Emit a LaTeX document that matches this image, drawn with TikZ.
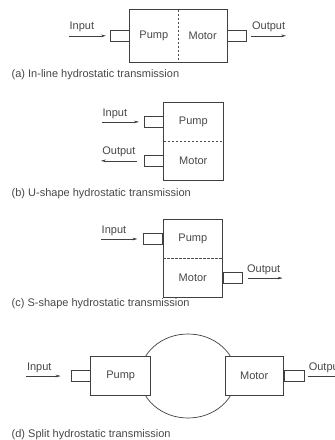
\documentclass[tikz,border=0pt]{standalone}
\usepackage{fontspec}
\setmainfont{Liberation Sans}
\usepackage{tikz}
\usetikzlibrary{arrows.meta, positioning}

\begin{document}
\begin{tikzpicture}[
    x=1pt, y=-1pt,
    every node/.style={font=\fontsize{11}{13}\selectfont, text=black!72},
    half/.style={rectangle, minimum width=59pt, minimum height=38.5pt, inner sep=0pt},
    unit/.style={rectangle, draw=black!75, line width=0.7pt, fill=white, minimum width=60pt, minimum height=39pt, inner sep=0pt},
    shaft/.style={rectangle, draw=black!75, line width=0.7pt, fill=white, minimum width=19pt, minimum height=11pt, inner sep=0pt},
    casing/.style={draw=black!75, line width=0.7pt},
    split/.style={draw=black!70, line width=0.7pt, dash pattern=on 2.5pt off 1.5pt},
    arr/.style={-{Stealth[length=5pt, width=2.6pt]}, draw=black!75, line width=0.5pt},
    caption/.style={anchor=west, inner xsep=0pt}
]
\useasboundingbox (0,0) rectangle (335,440);
\clip (0,0) rectangle (335,440);

% (a) In-line: Pump | Motor in one casing
\node[half, minimum width=48pt, minimum height=51.7pt] (pumpA) at (153.8,35.8) {Pump};
\node[half, minimum width=49pt, minimum height=51.7pt, right=0pt of pumpA] (motorA) {Motor};
\draw[casing] (pumpA.north west) rectangle (motorA.south east);
\draw[split] (pumpA.north east) -- (pumpA.south east);
\node[shaft, left=0pt of pumpA] (shaftinA) {};
\node[shaft, right=0pt of motorA] (shaftoutA) {};
\coordinate[left=41pt of shaftinA.west] (inA);
\coordinate[right=39pt of shaftoutA.east] (outA);
\draw[arr] (inA) -- node[pos=0.35, above] {Input} ([xshift=-4pt]shaftinA.west);
\draw[arr] ([xshift=4pt]shaftoutA.east) -- node[above] {Output} (outA);
\node[caption] (capA) at (11.5,75) {(a) In-line hydrostatic transmission};

% (b) U-shape: Pump over Motor, both shafts on the left
\node[half] (pumpB) at (193.3,121.9) {Pump};
\node[half, below=0pt of pumpB] (motorB) {Motor};
\draw[casing] (pumpB.north west) rectangle (motorB.south east);
\draw[split] (pumpB.south west) -- (pumpB.south east);
\node[shaft, left=0pt of pumpB] (shaftinB) {};
\node[shaft, left=0pt of motorB] (shaftoutB) {};
\coordinate[left=42pt of shaftinB.west] (inB);
\coordinate[left=43pt of shaftoutB.west] (outB);
\draw[arr] (inB) -- node[pos=0.35, above] {Input} ([xshift=-5pt]shaftinB.west);
\draw[arr] ([xshift=-7pt]shaftoutB.west) -- node[above] {Output} (outB);
\node[caption] (capB) at (11.5,194) {(b) U-shape hydrostatic transmission};

% (c) S-shape: input left of Pump, output right of Motor
\node[half, minimum height=38.7pt] (pumpC) at (192.8,239) {Pump};
\node[half, minimum height=38.7pt, below=0pt of pumpC] (motorC) {Motor};
\draw[casing] (pumpC.north west) rectangle (motorC.south east);
\draw[split] (pumpC.south west) -- (pumpC.south east);
\node[shaft, left=0pt of pumpC] (shaftinC) {};
\node[shaft, right=0pt of motorC] (shaftoutC) {};
\coordinate[left=42.6pt of shaftinC.west] (inC);
\coordinate[right=40.4pt of shaftoutC.east] (outC);
\draw[arr] (inC) -- node[pos=0.36, above] {Input} ([xshift=-6pt]shaftinC.west);
\draw[arr] ([xshift=5.4pt]shaftoutC.east) -- node[pos=0.46, above] {Output} (outC);
\node[caption] (capC) at (11.5,304) {(c) S-shape hydrostatic transmission};

% (d) Split: separate Pump and Motor joined by a loop
\coordinate (loopD) at (188,376);
\draw[casing] (loopD) ellipse [x radius=48, y radius=42];
\node[unit] (pumpD) at (120.7,376) {Pump};
\node[unit, minimum width=58.3pt] (motorD) at (254.2,376) {Motor};
\node[shaft, left=0pt of pumpD] (shaftinD) {};
\node[shaft, minimum width=20pt, right=0pt of motorD] (shaftoutD) {};
\coordinate[left=45pt of shaftinD.west] (inD);
\coordinate[right=38.4pt of shaftoutD.east] (outD);
\draw[arr] (inD) -- node[pos=0.39, above] {Input} ([xshift=-10pt]shaftinD.west);
\draw[arr] ([xshift=3.4pt]shaftoutD.east) -- node[above] {Output} (outD);
\node[caption] (capD) at (11.5,435) {(d) Split hydrostatic transmission};

\end{tikzpicture}
\end{document}
